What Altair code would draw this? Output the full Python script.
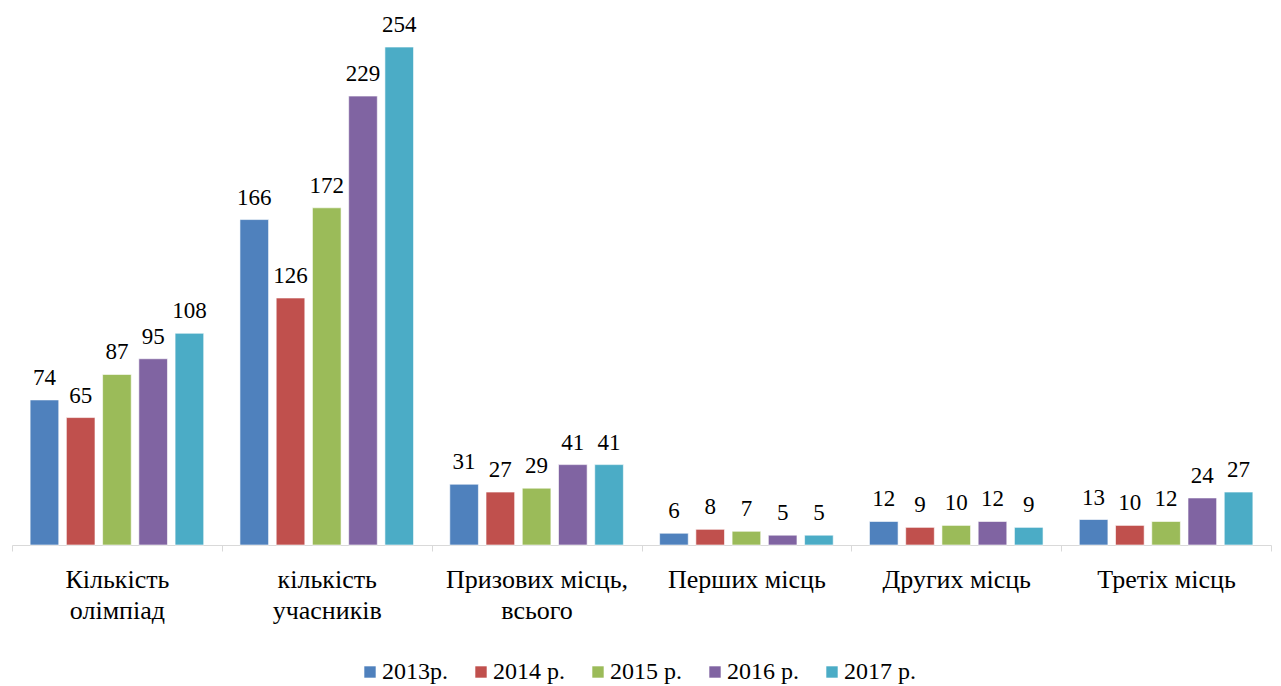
import altair as alt
import pandas as pd

categories = [
    "Кількість\nолімпіад",
    "кількість\nучасників",
    "Призових місць,\nвсього",
    "Перших місць",
    "Других місць",
    "Третіх місць",
]
years = ["2013р.", "2014 р.", "2015 р.", "2016 р.", "2017 р."]
v2013 = [74, 166, 31, 6, 12, 13]
v2014 = [65, 126, 27, 8, 9, 10]
v2015 = [87, 172, 29, 7, 10, 12]
v2016 = [95, 229, 41, 5, 12, 24]
v2017 = [108, 254, 41, 5, 9, 27]
colors = ["#4F81BD", "#C0504D", "#9BBB59", "#8064A2", "#4BACC6"]

series = [v2013, v2014, v2015, v2016, v2017]
rows = []
for yr, vals in zip(years, series):
    for c, v in zip(categories, vals):
        rows.append({"cat": c, "year": yr, "value": v})
df = pd.DataFrame(rows)

FONT = "Liberation Serif"

x = alt.X(
    "cat:N",
    sort=categories,
    scale=alt.Scale(paddingInner=0, paddingOuter=0),
    axis=alt.Axis(
        title=None,
        labelExpr="split(datum.label, '\\n')",
        labelFont=FONT,
        labelFontSize=26,
        labelColor="#000000",
        labelLineHeight=31,
        labelAngle=0,
        labelPadding=15,
        labelLimit=400,
        tickSize=6,
        tickColor="#D9D9D9",
        domainColor="#D9D9D9",
        tickBand="extent",
    ),
)
xo = alt.XOffset(
    "year:N", sort=years, scale=alt.Scale(paddingInner=0.21, paddingOuter=0.5)
)
y = alt.Y("value:Q", scale=alt.Scale(domain=[0, 267.8], nice=False), axis=None)

bars = alt.Chart(df).mark_bar(stroke="white", strokeWidth=0.6).encode(
    x=x,
    xOffset=xo,
    y=y,
    color=alt.Color(
        "year:N",
        sort=years,
        scale=alt.Scale(domain=years, range=colors),
        legend=alt.Legend(
            title=None,
            orient="none",
            legendX=346,
            legendY=640,
            direction="horizontal",
            columns=5,
            symbolType="square",
            symbolSize=130,
            symbolStrokeWidth=0,
            labelFont=FONT,
            labelFontSize=24,
            labelColor="#000000",
            labelOffset=0,
            columnPadding=21,
        ),
    ),
)

labels = alt.Chart(df).mark_text(
    baseline="bottom", dy=-10, font=FONT, fontSize=23, color="#000000"
).encode(x=x, xOffset=xo, y=y, text="value:Q")

chart = (
    alt.layer(bars, labels)
    .properties(
        width=1259,
        height=525,
        autosize=alt.AutoSizeParams(type="none"),
        padding={"left": 4, "top": 12, "right": 2, "bottom": 150},
    )
    .configure_view(stroke=None)
)

chart.save("out.html", embed_options={"renderer": "svg", "actions": False})
